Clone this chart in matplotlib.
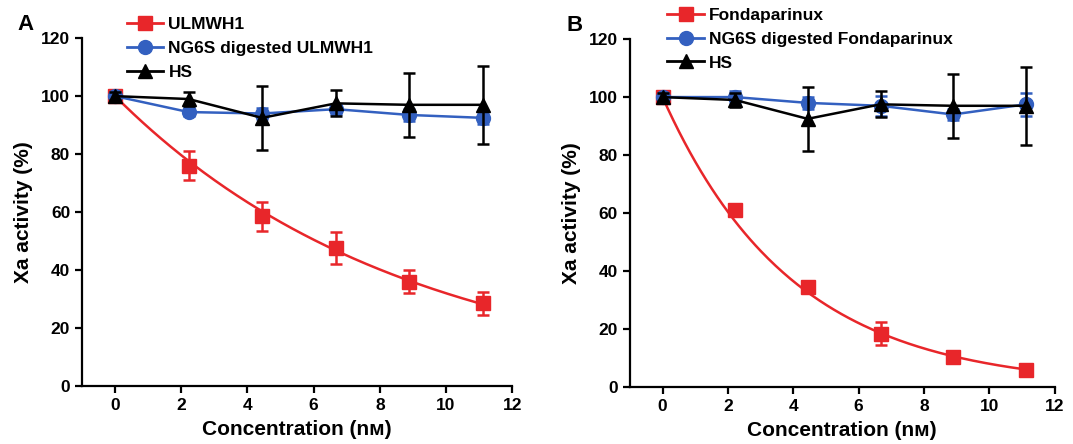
import numpy as np
import matplotlib
matplotlib.use("Agg")
import matplotlib.pyplot as plt

plt.rcParams['font.family'] = ['Liberation Sans', 'DejaVu Sans']
plt.rcParams['font.weight'] = 'bold'

conc = [0, 2.22, 4.44, 6.67, 8.89, 11.11]

# panel A
ulm = [100, 76, 58.5, 47.5, 36, 28.5]
ulm_err = [1.5, 5, 5, 5.5, 4, 4]
ulm_ng6s = [100, 94.5, 94, 95.5, 93.5, 92.5]
ulm_ng6s_err = [1.5, 1.5, 2, 1.5, 2, 2]
hs = [100, 99, 92.5, 97.5, 97, 97]
hs_err = [1.5, 2.5, 11, 4.5, 11, 13.5]

# panel B
fonda = [100, 61, 34.5, 18.5, 10.5, 6]
fonda_err = [1, 2, 1.5, 4, 2, 1]
fonda_ng6s = [100, 100, 98, 97, 94, 97.5]
fonda_ng6s_err = [1, 2, 2, 3.5, 2, 4]

xticks = [0, 2, 4, 6, 8, 10, 12]
yticks = [0, 20, 40, 60, 80, 100, 120]

RED = '#e8262a'
BLUE = '#3360c0'
BLACK = '#000000'


def fit_exp(x, y):
    # y = 100*exp(-k x), fitted through the first point
    x = np.array(x)
    ly = np.log(np.array(y) / y[0])
    k = np.sum(x * ly) / np.sum(x * x)
    xx = np.linspace(0, max(x), 200)
    return xx, y[0] * np.exp(k * xx)


def panel(ax, red, red_err, blue, blue_err, red_name, blue_name, letter, lx, ly):
    xx, yy = fit_exp(conc, red)
    ax.plot(xx, yy, color=RED, lw=1.8, zorder=2)
    ax.errorbar(conc, red, yerr=red_err, fmt='s', color=RED, ms=10,
                capsize=4, elinewidth=1.8, capthick=1.8, zorder=3)
    ax.errorbar(conc, blue, yerr=blue_err, fmt='o-', color=BLUE, ms=10,
                lw=1.8, capsize=4, elinewidth=1.8, capthick=1.8, zorder=4)
    ax.errorbar(conc, hs, yerr=hs_err, fmt='^-', color=BLACK, ms=10,
                lw=1.8, capsize=4, elinewidth=1.8, capthick=1.8, zorder=5)

    h1, = ax.plot([], [], 's-', color=RED, ms=10, lw=2)
    h2, = ax.plot([], [], 'o-', color=BLUE, ms=10, lw=2)
    h3, = ax.plot([], [], '^-', color=BLACK, ms=10, lw=2)
    ax.legend([h1, h2, h3], [red_name, blue_name, 'HS'], loc='upper left',
              bbox_to_anchor=(lx, ly), frameon=False, fontsize=12.5,
              handlelength=2.1, handletextpad=0.3, labelspacing=0.5,
              borderaxespad=0)

    ax.set_xlim(-1, 12)
    ax.set_ylim(0, 120)
    ax.set_xticks(xticks)
    ax.set_yticks(yticks)
    ax.spines['top'].set_visible(False)
    ax.spines['right'].set_visible(False)
    ax.spines['left'].set_linewidth(1.6)
    ax.spines['bottom'].set_linewidth(1.6)
    ax.tick_params(direction='out', length=5, width=1.6, labelsize=12.5)
    for t in ax.get_xticklabels() + ax.get_yticklabels():
        t.set_fontweight('bold')
    ax.set_ylabel('Xa activity (%)', fontsize=15, fontweight='bold', labelpad=6)
    ax.set_xlabel('Concentration (nᴍ)', fontsize=15, fontweight='bold', labelpad=5)
    ax.text(-0.15, 1.04, letter, transform=ax.transAxes, fontsize=16,
            fontweight='bold', ha='left', va='center')


fig = plt.figure(figsize=(10.73, 4.44), dpi=100)
axA = fig.add_axes([0.0764, 0.131, 0.401, 0.783])
axB = fig.add_axes([0.587, 0.128, 0.396, 0.784])

panel(axA, ulm, ulm_err, ulm_ng6s, ulm_ng6s_err,
      'ULMWH1', 'NG6S digested ULMWH1', 'A', 0.088, 1.08)
panel(axB, fonda, fonda_err, fonda_ng6s, fonda_ng6s_err,
      'Fondaparinux', 'NG6S digested Fondaparinux', 'B', 0.072, 1.11)

fig.savefig('out.png', dpi=100)
